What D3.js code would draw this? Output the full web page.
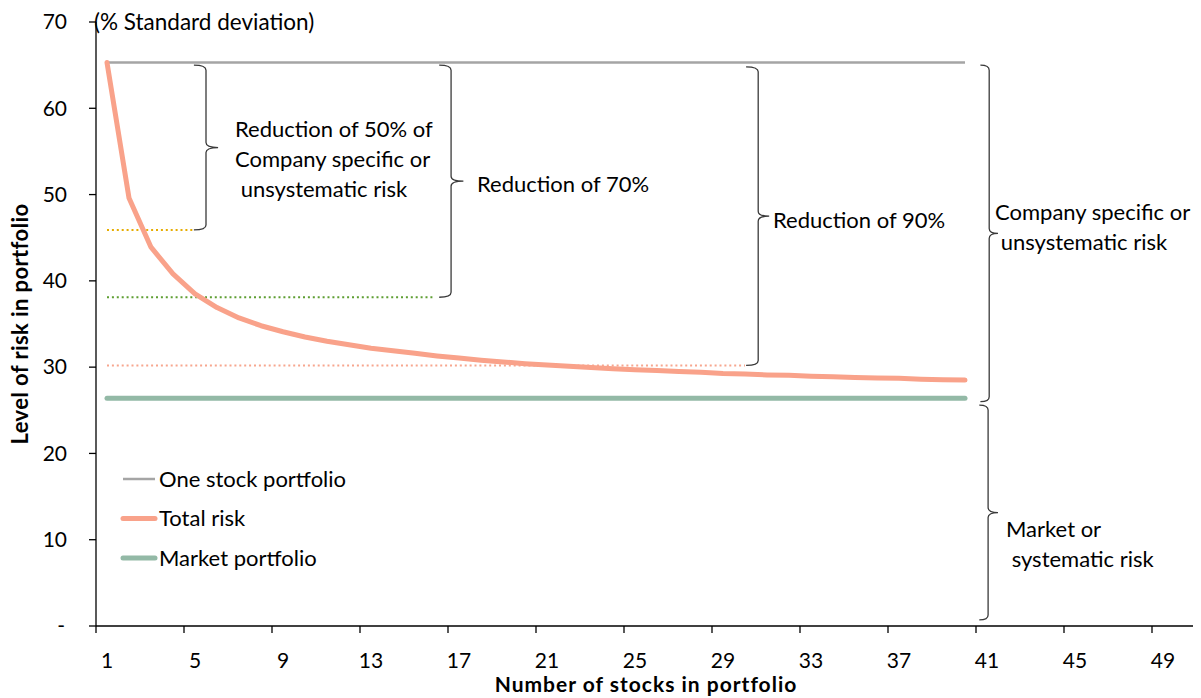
<!DOCTYPE html>
<html>
<head>
<meta charset="utf-8">
<script src="https://cdn.jsdelivr.net/npm/d3@7"></script>
<style>
  body { margin: 0; background: #fff; }
  svg text { font-family: Lato, "Open Sans", sans-serif; fill: #000; }
</style>
</head>
<body>
<div class="risk_chart"></div>
<script>
// number of stocks in the portfolio (categories)
var stocks = [1, 2, 3, 4, 5, 6, 7, 8, 9, 10, 11, 12, 13, 14, 15, 16, 17, 18, 19, 20,
              21, 22, 23, 24, 25, 26, 27, 28, 29, 30, 31, 32, 33, 34, 35, 36, 37, 38, 39, 40];

// total risk of the portfolio (% standard deviation)
var totalRisk = [65.3, 49.6, 43.9, 40.8, 38.5, 36.9, 35.7, 34.8, 34.1, 33.5,
                 33.0, 32.6, 32.2, 31.9, 31.6, 31.3, 31.05, 30.8, 30.6, 30.4,
                 30.25, 30.1, 29.95, 29.8, 29.7, 29.6, 29.5, 29.4, 29.25, 29.2,
                 29.1, 29.05, 28.95, 28.9, 28.8, 28.75, 28.7, 28.6, 28.55, 28.5];

var oneStock = 65.3;   // one stock portfolio
var market = 26.4;     // market portfolio

// reduction levels (dotted lines): level and last stock count reached
var reductionLevels = [45.9, 38.1, 30.2];
var reductionEnds = [4.9, 15.9, 30.0];

var yTicks = [0, 10, 20, 30, 40, 50, 60, 70];
var xTickLabels = [1, 5, 9, 13, 17, 21, 25, 29, 33, 37, 41, 45, 49];

var legendLabels = ['One stock portfolio', 'Total risk', 'Market portfolio'];

(function () {
    var width = 1201,
        height = 698;

    var x = d3.scaleLinear().domain([0.5, 50.5]).range([96, 1196]);
    var y = d3.scaleLinear().domain([0, 70]).range([626, 22]);

    var svg = d3.select('.risk_chart').append('svg')
        .attr('width', width)
        .attr('height', height);

    // series styles
    var colors = {
        one: '#a5a5a5',
        total: '#f9a28a',
        market: '#93b9a6'
    };
    var dotColors = ['#e6ac00', '#5e9e32', '#f7a68e'];

    // dotted reduction lines
    reductionLevels.forEach(function (lvl, i) {
        svg.append('line')
            .attr('x1', x(1))
            .attr('x2', x(reductionEnds[i]))
            .attr('y1', y(lvl))
            .attr('y2', y(lvl))
            .attr('stroke', dotColors[i])
            .attr('stroke-width', 2)
            .attr('stroke-dasharray', '2,2.9');
    });

    // one stock portfolio
    svg.append('line')
        .attr('x1', x(stocks[0]))
        .attr('x2', x(stocks[stocks.length - 1]))
        .attr('y1', y(oneStock))
        .attr('y2', y(oneStock))
        .attr('stroke', colors.one)
        .attr('stroke-width', 2.5);

    // market portfolio
    svg.append('line')
        .attr('x1', x(stocks[0]))
        .attr('x2', x(stocks[stocks.length - 1]))
        .attr('y1', y(market))
        .attr('y2', y(market))
        .attr('stroke', colors.market)
        .attr('stroke-width', 5)
        .attr('stroke-linecap', 'round');

    // total risk curve
    var line = d3.line()
        .x(function (d, i) { return x(stocks[i]); })
        .y(function (d) { return y(d); });

    svg.append('path')
        .datum(totalRisk)
        .attr('d', line)
        .attr('fill', 'none')
        .attr('stroke', colors.total)
        .attr('stroke-width', 5)
        .attr('stroke-linecap', 'round')
        .attr('stroke-linejoin', 'round');

    // axes
    var yAxis = svg.append('g');
    yAxis.append('line')
        .attr('x1', 96).attr('x2', 96)
        .attr('y1', y(70)).attr('y2', y(0))
        .attr('stroke', '#000').attr('stroke-width', 1.3);
    yTicks.forEach(function (t) {
        yAxis.append('line')
            .attr('x1', 89).attr('x2', 96)
            .attr('y1', y(t)).attr('y2', y(t))
            .attr('stroke', '#000').attr('stroke-width', 1.3);
        yAxis.append('text')
            .attr('x', t === 0 ? 65 : 67)
            .attr('y', y(t))
            .attr('dy', '0.35em')
            .attr('text-anchor', 'end')
            .style('font-size', '21px')
            .text(t === 0 ? '-' : t);
    });

    var xAxis = svg.append('g');
    xAxis.append('line')
        .attr('x1', 96).attr('x2', 1193)
        .attr('y1', y(0)).attr('y2', y(0))
        .attr('stroke', '#000').attr('stroke-width', 1.3);
    xTickLabels.forEach(function (t) {
        // tick marks sit between categories
        xAxis.append('line')
            .attr('x1', x(t - 0.5)).attr('x2', x(t - 0.5))
            .attr('y1', y(0)).attr('y2', y(0) + 7)
            .attr('stroke', '#000').attr('stroke-width', 1.3);
        xAxis.append('text')
            .attr('x', x(t))
            .attr('y', 668)
            .attr('text-anchor', 'middle')
            .style('font-size', '21px')
            .text(t);
    });

    // axis titles
    svg.append('text')
        .attr('x', 646)
        .attr('y', 692)
        .attr('text-anchor', 'middle')
        .style('font-size', '21px')
        .style('font-weight', 'bold')
        .style('letter-spacing', '1px')
        .text('Number of stocks in portfolio');

    svg.append('text')
        .attr('transform', 'translate(28,324) rotate(-90)')
        .attr('text-anchor', 'middle')
        .style('font-size', '22px')
        .style('font-weight', 'bold')
        .style('letter-spacing', '0.4px')
        .text('Level of risk in portfolio');

    svg.append('text')
        .attr('x', 94)
        .attr('y', 30)
        .style('font-size', '22.5px')
        .text('(% Standard deviation)');

    // curly braces: vertical x, span from top to bottom (data units), tip out right
    var braces = [
        { x: 5.5, top: 65.0, bottom: 45.9, left: 4.95, tip: 6.05 },
        { x: 16.64, top: 65.0, bottom: 38.1, left: 16.1, tip: 17.2 },
        { x: 30.6, top: 64.8, bottom: 30.2, left: 30.05, tip: 31.1 },
        { x: 41.1, top: 65.0, bottom: 26.0, left: 40.7, tip: 41.5 },
        { x: 41.05, top: 25.6, bottom: 0.7, left: 40.65, tip: 41.5 }
    ];

    braces.forEach(function (b) {
        var xv = x(b.x), xl = x(b.left), xt = x(b.tip);
        var y0 = y(b.top), y1 = y(b.bottom), ym = (y0 + y1) / 2;
        var r = 5;
        var p = d3.path();
        p.moveTo(xl, y0);
        p.quadraticCurveTo(xv, y0, xv, y0 + r);
        p.lineTo(xv, ym - r);
        p.quadraticCurveTo(xv, ym, xt, ym);
        p.moveTo(xt, ym);
        p.quadraticCurveTo(xv, ym, xv, ym + r);
        p.lineTo(xv, y1 - r);
        p.quadraticCurveTo(xv, y1, xl, y1);
        svg.append('path')
            .attr('d', p.toString())
            .attr('fill', 'none')
            .attr('stroke', '#3a3a3a')
            .attr('stroke-width', 1.3);
    });

    // annotation texts
    var notes = [
        { x: 235, y: 137, lines: ['Reduction of 50% of', 'Company specific or', ' unsystematic risk'] },
        { x: 477, y: 192, lines: ['Reduction of 70%'] },
        { x: 773, y: 228, lines: ['Reduction of 90%'] },
        { x: 995, y: 220, lines: ['Company specific or', ' unsystematic risk'] },
        { x: 1006, y: 537, lines: ['Market or', ' systematic risk'] }
    ];
    notes.forEach(function (n) {
        var t = svg.append('text')
            .attr('x', n.x)
            .attr('y', n.y)
            .style('font-size', '22px')
            .attr('xml:space', 'preserve');
        n.lines.forEach(function (l, i) {
            t.append('tspan')
                .attr('x', n.x)
                .attr('dy', i === 0 ? 0 : 30)
                .text(l);
        });
    });

    // legend
    var legendStyles = [
        { c: colors.one, w: 2.5 },
        { c: colors.total, w: 5 },
        { c: colors.market, w: 5 }
    ];
    legendLabels.forEach(function (lbl, i) {
        var ly = 479 + i * 39.5;
        svg.append('line')
            .attr('x1', 123).attr('x2', 155)
            .attr('y1', ly).attr('y2', ly)
            .attr('stroke', legendStyles[i].c)
            .attr('stroke-width', legendStyles[i].w)
            .attr('stroke-linecap', i === 0 ? 'butt' : 'round');
        svg.append('text')
            .attr('x', 159)
            .attr('y', ly)
            .attr('dy', '0.35em')
            .style('font-size', '22px')
            .text(lbl);
    });
}());
</script>
</body>
</html>
